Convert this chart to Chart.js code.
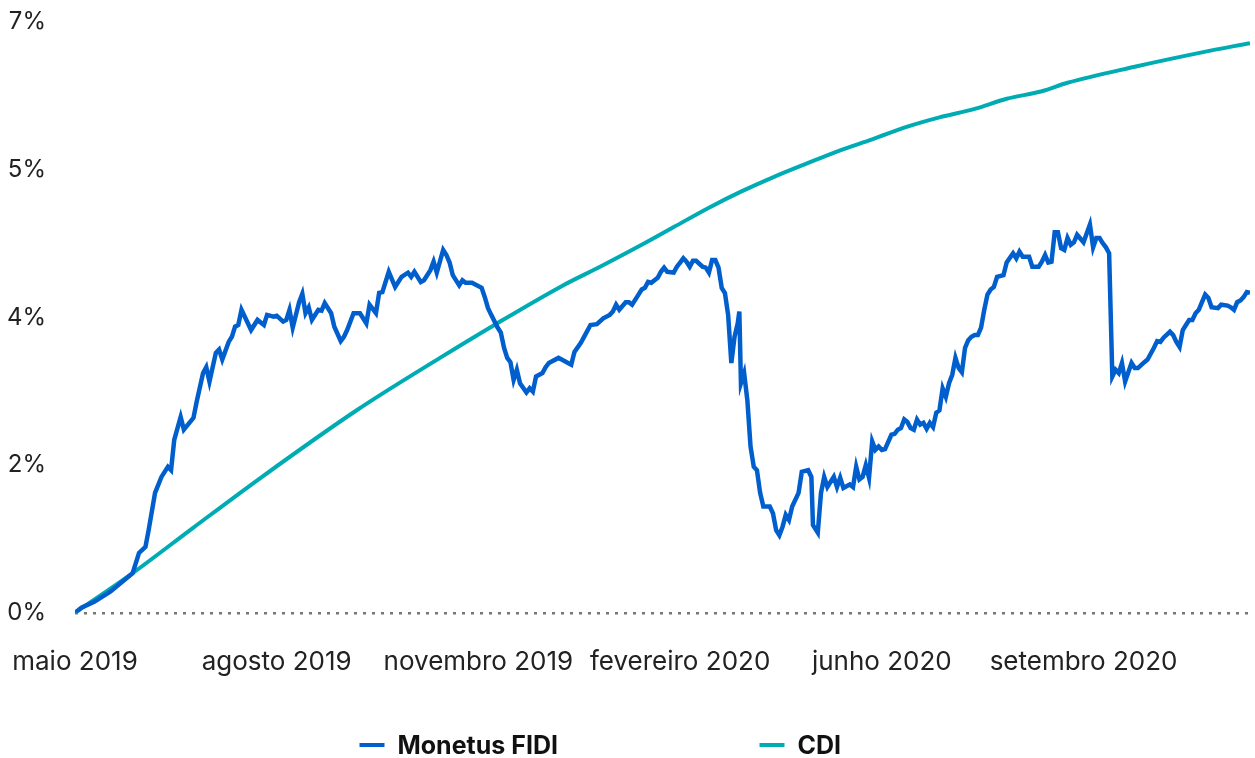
<!DOCTYPE html>
<html>
<head>
<meta charset="utf-8">
<script src="https://cdn.jsdelivr.net/npm/chart.js@4.4.0/dist/chart.umd.min.js"></script>
<style>
  html, body { margin: 0; padding: 0; background: #fff; }
  #wrap { width: 1255px; height: 758px; }
</style>
</head>
<body>
<div id="wrap"><canvas id="chart"></canvas></div>
<script>
// x = trading day counted from the start of the series
var xTickIndex = [0, 63, 126, 189, 252, 315];
var xTickLabels = ['maio 2019', 'agosto 2019', 'novembro 2019', 'fevereiro 2020', 'junho 2020', 'setembro 2020'];
var yTicks = [0, 1.75, 3.5, 5.25, 7];

var fidiDay = [0, 2, 6, 11, 18, 20, 22, 23, 25, 27, 29, 30, 31, 33, 34, 37, 38, 40, 41, 42, 44, 45, 46, 48, 49, 50, 51, 52, 55, 57,
  59, 60, 62, 63, 65, 66, 67, 68, 70, 71, 72, 73, 74, 76, 77, 78, 80, 81, 83, 84, 85, 87, 89, 91, 92, 94, 95, 96, 98, 100,
  102, 104, 105, 106, 108, 109, 111, 112, 113, 115, 116, 117, 118, 120, 121, 122, 124, 127, 128, 129, 130, 132, 133, 134, 135, 136, 137, 138, 139, 141,
  142, 143, 144, 146, 147, 148, 151, 152, 154, 155, 156, 158, 159, 161, 163, 165, 167, 168, 169, 170, 172, 173, 174, 176, 177, 178, 179, 180, 182, 183,
  184, 185, 187, 188, 189, 190, 191, 192, 193, 194, 196, 197, 198, 199, 200, 201, 202, 203, 204, 205, 206, 207, 207.5, 208, 209, 210, 211, 212, 213, 214,
  215, 217, 218, 219, 220, 221, 222, 223, 224, 226, 227, 229, 230, 230.5, 232, 233, 234, 235, 237, 238, 239, 240, 242, 243, 244, 245, 246, 247, 248, 249,
  250, 251, 252, 253, 255, 256, 257, 258, 259, 260, 261, 262, 263, 264, 265, 266, 267, 268, 269, 270, 271, 272, 273, 274, 275, 276, 277, 278, 279, 280,
  281, 282, 283, 284, 285, 286, 287, 288, 290, 291, 293, 294, 295, 296, 298, 299, 301, 302, 303, 304, 305, 306, 307, 308, 309, 310, 311, 312, 313, 315,
  317, 318, 319, 320, 321, 322, 323, 324, 325, 326, 327, 328, 329, 330, 331, 332, 334, 335, 337, 338, 339, 340, 342, 343, 344, 345, 346, 347, 348, 349,
  350, 351, 352, 353, 354, 355, 357, 358, 360, 361, 362, 363, 364, 365, 366, 367];
var fidiValue = [0, 0.06, 0.13, 0.25, 0.47, 0.71, 0.78, 0.98, 1.42, 1.61, 1.73, 1.69, 2.05, 2.32, 2.17, 2.31, 2.50, 2.84, 2.91, 2.74, 3.08, 3.12, 3.00, 3.21, 3.27, 3.39, 3.41, 3.59, 3.35, 3.47,
  3.41, 3.53, 3.51, 3.52, 3.45, 3.47, 3.59, 3.38, 3.68, 3.78, 3.55, 3.62, 3.47, 3.59, 3.58, 3.67, 3.55, 3.39, 3.22, 3.27, 3.35, 3.55, 3.55, 3.43, 3.65, 3.55, 3.79, 3.80, 4.04, 3.86,
  3.98, 4.03, 3.98, 4.04, 3.92, 3.94, 4.06, 4.16, 4.03, 4.30, 4.24, 4.15, 4.00, 3.88, 3.94, 3.91, 3.91, 3.85, 3.74, 3.61, 3.53, 3.38, 3.32, 3.14, 3.02, 2.97, 2.76, 2.88, 2.72, 2.61,
  2.66, 2.62, 2.80, 2.84, 2.91, 2.96, 3.02, 3.00, 2.96, 2.94, 3.09, 3.20, 3.27, 3.41, 3.42, 3.49, 3.53, 3.57, 3.65, 3.59, 3.68, 3.68, 3.65, 3.77, 3.83, 3.85, 3.92, 3.91, 3.97, 4.04,
  4.09, 4.04, 4.03, 4.10, 4.15, 4.20, 4.16, 4.10, 4.17, 4.17, 4.10, 4.09, 4.03, 4.18, 4.18, 4.09, 3.85, 3.79, 3.53, 2.96, 3.27, 3.43, 3.57, 2.72, 2.84, 2.52, 1.97, 1.73, 1.69, 1.42,
  1.26, 1.26, 1.18, 0.98, 0.92, 1.02, 1.16, 1.10, 1.26, 1.42, 1.67, 1.69, 1.61, 1.04, 0.95, 1.42, 1.61, 1.49, 1.61, 1.49, 1.60, 1.48, 1.52, 1.49, 1.73, 1.58, 1.61, 1.75, 1.60, 2.03,
  1.93, 1.97, 1.93, 1.94, 2.11, 2.12, 2.17, 2.19, 2.29, 2.26, 2.19, 2.17, 2.29, 2.23, 2.25, 2.18, 2.25, 2.20, 2.37, 2.40, 2.66, 2.56, 2.72, 2.82, 3.02, 2.90, 2.85, 3.14, 3.23, 3.27,
  3.29, 3.29, 3.38, 3.59, 3.77, 3.83, 3.86, 3.98, 4.00, 4.15, 4.26, 4.20, 4.28, 4.22, 4.22, 4.10, 4.10, 4.16, 4.24, 4.15, 4.16, 4.51, 4.51, 4.32, 4.30, 4.44, 4.36, 4.39, 4.48, 4.39,
  4.60, 4.33, 4.44, 4.44, 4.38, 4.33, 4.26, 2.80, 2.88, 2.84, 2.96, 2.74, 2.85, 2.96, 2.90, 2.90, 2.97, 3.00, 3.14, 3.22, 3.21, 3.26, 3.33, 3.29, 3.21, 3.15, 3.35, 3.41, 3.47, 3.47,
  3.55, 3.59, 3.68, 3.77, 3.73, 3.62, 3.61, 3.65, 3.64, 3.62, 3.59, 3.68, 3.70, 3.74, 3.80, 3.79];

var cdiDay = [0, 18, 37, 58, 88, 114, 131, 152, 164, 177, 187, 198, 208, 218, 229, 239, 249, 260, 270, 281, 291, 302, 310, 331, 352, 367];
var cdiValue = [0, 0.47, 1.01, 1.60, 2.40, 3.02, 3.41, 3.87, 4.10, 4.36, 4.57, 4.80, 4.99, 5.16, 5.33, 5.48, 5.61, 5.76, 5.87, 5.97, 6.09, 6.18, 6.28, 6.47, 6.64, 6.75];

var fontFamily = 'Inter, "Noto Sans", sans-serif';
var textColor = '#222';

function toPoints(days, values) {
  return days.map(function (d, i) { return { x: d, y: values[i] }; });
}

// legend with a wide fixed slot per item, drawn under the axis labels
var bottomLegend = {
  id: 'bottomLegend',
  afterDraw: function (chart) {
    var ctx = chart.ctx;
    var x = chart.width / 2 - 268;
    var y = 745;
    ctx.save();
    ctx.font = 'bold 25px ' + fontFamily;
    ctx.textBaseline = 'middle';
    ctx.textAlign = 'left';
    chart.data.datasets.forEach(function (ds) {
      ctx.strokeStyle = ds.borderColor;
      ctx.lineWidth = 4;
      ctx.beginPath();
      ctx.moveTo(x, y);
      ctx.lineTo(x + 25, y);
      ctx.stroke();
      ctx.fillStyle = '#111';
      ctx.fillText(ds.label, x + 38, y + 1);
      x += 400;
    });
    ctx.restore();
  }
};

new Chart(document.getElementById('chart'), {
  type: 'line',
  data: {
    datasets: [{
      label: 'Monetus FIDI',
      data: toPoints(fidiDay, fidiValue),
      borderColor: '#005fcc',
      backgroundColor: '#005fcc',
      borderWidth: 4.5,
      pointRadius: 0,
      tension: 0
    }, {
      label: 'CDI',
      data: toPoints(cdiDay, cdiValue),
      borderColor: '#00acb4',
      backgroundColor: '#00acb4',
      borderWidth: 4,
      pointRadius: 0,
      cubicInterpolationMode: 'monotone'
    }]
  },
  options: {
    responsive: true,
    maintainAspectRatio: false,
    animation: false,
    // top padding wins over the half label height, so it sets the plot top
    layout: { padding: { top: 22, right: 5, bottom: 80, left: 0 } },
    scales: {
      x: {
        type: 'linear',
        min: 0,
        max: 367,
        afterBuildTicks: function (axis) {
          axis.ticks = xTickIndex.map(function (v) { return { value: v }; });
        },
        // invisible tick marks only push the labels down
        grid: { drawOnChartArea: false, tickLength: 34, tickColor: 'transparent' },
        border: { display: false },
        ticks: {
          padding: 0,
          maxRotation: 0,
          autoSkip: false,
          color: textColor,
          font: { family: fontFamily, size: 26 },
          callback: function (v) {
            var i = xTickIndex.indexOf(v);
            return i >= 0 ? xTickLabels[i] : '';
          }
        }
      },
      y: {
        min: 0,
        max: 7,
        afterBuildTicks: function (axis) {
          axis.ticks = yTicks.map(function (v) { return { value: v }; });
        },
        afterFit: function (axis) { axis.width = 75; },
        grid: {
          tickLength: 29,
          tickColor: 'transparent',
          lineWidth: 2.5,
          color: function (c) { return c.tick && c.tick.value === 0 ? '#777' : 'transparent'; }
        },
        border: { display: false, dash: [3, 6] },
        ticks: {
          padding: 0,
          color: textColor,
          font: { family: fontFamily, size: 24 },
          callback: function (v) { return Math.round(v) + '%'; }
        }
      }
    },
    plugins: {
      legend: { display: false },
      tooltip: { enabled: false }
    }
  },
  plugins: [bottomLegend]
});
</script>
</body>
</html>
